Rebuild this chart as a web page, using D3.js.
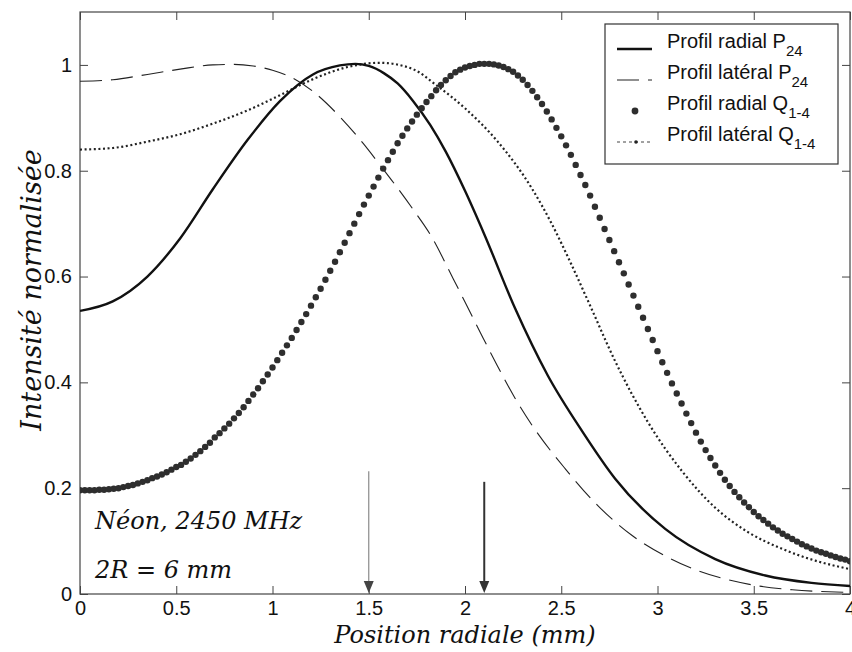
<!DOCTYPE html>
<html><head><meta charset="utf-8">
<script src="https://cdn.jsdelivr.net/npm/d3@7"></script>
<style>body{margin:0;background:#fff}svg{display:block}</style>
</head><body>
<svg id="c" width="852" height="652"></svg>
<script>
// ---------- data ----------
const xTicks = [0, 0.5, 1, 1.5, 2, 2.5, 3, 3.5, 4];
const xTickLabels = ["0", "0.5", "1", "1.5", "2", "2.5", "3", "3.5", "4"];
const yTicks = [0, 0.2, 0.4, 0.6, 0.8, 1];
const yTickLabels = ["0", "0.2", "0.4", "0.6", "0.8", "1"];

// Profil radial P24 (solid)
const radialP = [[0,.535],[.17,.553],[.35,.6],[.52,.672],[.69,.765],[.87,.858],[1.04,.932],[1.21,.982],[1.35,.999],[1.43,1.002],[1.5,.998],[1.58,.984],[1.65,.965],[1.73,.932],[1.82,.886],[1.9,.836],[2.0,.762],[2.1,.68],[2.26,.54],[2.43,.413],[2.61,.307],[2.78,.218],[3.04,.123],[3.3,.066],[3.56,.035],[3.8,.021],[4.0,.015]];
// Profil latéral P24 (dashed)
const lateralP = [[0,.969],[.17,.972],[.35,.982],[.52,.992],[.69,1.0],[.8,1.001],[.9,.998],[1.0,.99],[1.1,.976],[1.21,.95],[1.35,.902],[1.47,.852],[1.56,.81],[1.64,.772],[1.73,.727],[1.82,.679],[1.94,.595],[2.0,.552],[2.08,.494],[2.17,.43],[2.26,.37],[2.35,.318],[2.52,.237],[2.69,.167],[2.87,.11],[3.04,.072],[3.21,.044],[3.39,.025],[3.51,.016],[3.7,.008],[4.0,.003]];
// Profil radial Q1-4 (big dots)
const radialQ = [[0,.196],[.025,.196],[.05,.196],[.075,.196],[.1,.197],[.125,.197],[.15,.198],[.175,.199],[.2,.2],[.225,.202],[.25,.204],[.275,.206],[.3,.209],[.325,.212],[.35,.215],[.375,.219],[.4,.222],[.425,.226],[.45,.23],[.475,.235],[.5,.24],[.525,.244],[.55,.25],[.575,.256],[.6,.263],[.625,.27],[.65,.278],[.675,.286],[.7,.296],[.725,.304],[.75,.313],[.775,.322],[.8,.332],[.825,.342],[.85,.353],[.875,.365],[.9,.377],[.925,.389],[.95,.402],[.975,.415],[1,.428],[1.025,.442],[1.05,.456],[1.075,.47],[1.1,.484],[1.125,.499],[1.15,.514],[1.175,.529],[1.2,.545],[1.225,.561],[1.25,.577],[1.275,.594],[1.3,.611],[1.325,.628],[1.35,.646],[1.375,.664],[1.4,.682],[1.425,.7],[1.45,.718],[1.475,.736],[1.5,.753],[1.525,.77],[1.55,.787],[1.575,.804],[1.6,.82],[1.625,.836],[1.65,.852],[1.675,.866],[1.7,.88],[1.725,.893],[1.75,.906],[1.775,.918],[1.8,.93],[1.825,.941],[1.85,.952],[1.875,.962],[1.9,.971],[1.925,.979],[1.95,.986],[1.975,.991],[2,.995],[2.025,.998],[2.05,1],[2.075,1.002],[2.1,1.002],[2.125,1.002],[2.15,1.001],[2.175,.999],[2.2,.996],[2.225,.992],[2.25,.987],[2.275,.98],[2.3,.972],[2.325,.962],[2.35,.951],[2.375,.939],[2.4,.926],[2.425,.912],[2.45,.897],[2.475,.881],[2.5,.865],[2.525,.848],[2.55,.83],[2.575,.811],[2.6,.792],[2.625,.773],[2.65,.753],[2.675,.732],[2.7,.711],[2.725,.69],[2.75,.669],[2.775,.648],[2.8,.627],[2.825,.606],[2.85,.585],[2.875,.564],[2.9,.543],[2.925,.522],[2.95,.501],[2.975,.48],[3,.459],[3.025,.438],[3.05,.418],[3.075,.398],[3.1,.379],[3.125,.36],[3.15,.341],[3.175,.323],[3.2,.305],[3.225,.288],[3.25,.272],[3.275,.257],[3.3,.243],[3.325,.229],[3.35,.216],[3.375,.204],[3.4,.193],[3.425,.183],[3.45,.173],[3.475,.164],[3.5,.155],[3.525,.147],[3.55,.14],[3.575,.133],[3.6,.126],[3.625,.12],[3.65,.114],[3.675,.109],[3.7,.104],[3.725,.099],[3.75,.094],[3.775,.09],[3.8,.086],[3.825,.082],[3.85,.079],[3.875,.076],[3.9,.073],[3.925,.07],[3.95,.067],[3.975,.065],[4,.062]];
// Profil latéral Q1-4 (dotted)
const lateralQ = [[0,.84],[.17,.843],[.35,.855],[.52,.869],[.69,.889],[.87,.914],[1.04,.943],[1.21,.973],[1.39,.996],[1.56,1.004],[1.73,.992],[1.85,.962],[2.0,.918],[2.17,.855],[2.35,.765],[2.45,.7],[2.55,.625],[2.65,.545],[2.78,.44],[2.95,.325],[3.13,.231],[3.3,.163],[3.47,.117],[3.65,.085],[3.82,.063],[4.0,.047]];

const arrows = [{x: 1.5, y0: 0.232, y1: 0.0, kind: "light"}, {x: 2.1, y0: 0.212, y1: 0.0, kind: "dark"}];
const legendItems = [
  {text: "Profil radial ", main: "P", sub: "24", kind: "solid"},
  {text: "Profil latéral ", main: "P", sub: "24", kind: "dashed"},
  {text: "Profil radial ", main: "Q", sub: "1-4", kind: "dots"},
  {text: "Profil latéral ", main: "Q", sub: "1-4", kind: "dotted"}
];
const notes = ["Néon, 2450 MHz", "2R = 6 mm"];
const xLabel = "Position radiale (mm)";
const yLabel = "Intensité normalisée";

// ---------- drawing ----------
const L = 80, R = 850, T = 12, B = 594;
const svg = d3.select("#c");
const x = d3.scaleLinear().domain([0, 4]).range([L, R]);
const y = d3.scaleLinear().domain([0, 1.1]).range([B, T]);
const sans = "'Liberation Sans', Arial, Helvetica, sans-serif";
const serif = "'DejaVu Serif', serif";

svg.append("rect").attr("width", 852).attr("height", 652).attr("fill", "#fff");
svg.append("defs").append("clipPath").attr("id", "clip")
  .append("rect").attr("x", L).attr("y", T).attr("width", R - L).attr("height", B - T);

// axes (inward ticks like MATLAB)
const ax = svg.append("g").attr("transform", `translate(0,${B})`)
  .call(d3.axisBottom(x).tickValues(xTicks).tickFormat((d, i) => xTickLabels[i]).tickSize(-8).tickPadding(7));
const ay = svg.append("g").attr("transform", `translate(${L},0)`)
  .call(d3.axisLeft(y).tickValues(yTicks).tickFormat((d, i) => yTickLabels[i]).tickSize(-8).tickPadding(8));
const axT = svg.append("g").attr("transform", `translate(0,${T})`)
  .call(d3.axisTop(x).tickValues(xTicks).tickFormat("").tickSize(-8));
const ayR = svg.append("g").attr("transform", `translate(${R},0)`)
  .call(d3.axisRight(y).tickValues(yTicks).tickFormat("").tickSize(-8));
[ax, ay, axT, ayR].forEach(g => {
  g.select(".domain").remove();
  g.selectAll("line").attr("stroke", "#444").attr("stroke-width", 1);
  g.selectAll("text").attr("font-family", sans).attr("font-size", 20).attr("fill", "#111");
});
svg.append("rect").attr("x", L).attr("y", T).attr("width", R - L).attr("height", B - T)
  .attr("fill", "none").attr("stroke", "#444").attr("stroke-width", 1.2);

const plot = svg.append("g").attr("clip-path", "url(#clip)");
const line = d3.line().x(d => x(d[0])).y(d => y(d[1])).curve(d3.curveMonotoneX);

plot.append("path").datum(lateralP).attr("d", line).attr("fill", "none")
  .attr("stroke", "#222").attr("stroke-width", 1.1).attr("stroke-dasharray", "22,9");
plot.append("path").datum(lateralQ).attr("d", line).attr("fill", "none")
  .attr("stroke", "#222").attr("stroke-width", 2.2).attr("stroke-dasharray", "2,2.6");
plot.append("path").datum(radialP).attr("d", line).attr("fill", "none")
  .attr("stroke", "#111").attr("stroke-width", 2.4);
plot.selectAll("circle.q").data(radialQ).join("circle").attr("class", "q")
  .attr("cx", d => x(d[0])).attr("cy", d => y(d[1])).attr("r", 3.2)
  .attr("fill", "#2e2e2e");

// arrows
arrows.forEach(a => {
  const ax0 = x(a.x), yTop = y(a.y0), yTip = y(a.y1) - 1;
  const dark = a.kind === "dark";
  svg.append("line").attr("x1", ax0).attr("x2", ax0).attr("y1", yTop).attr("y2", yTip - 8)
    .attr("stroke", dark ? "#333" : "#8a8a8a").attr("stroke-width", dark ? 2 : 1.2);
  svg.append("path").attr("d", `M${ax0 - 5},${yTip - 12}L${ax0 + 5},${yTip - 12}L${ax0},${yTip}Z`)
    .attr("fill", dark ? "#333" : "#444");
});

// annotations
svg.append("text").attr("x", 95).attr("y", 529).text(notes[0])
  .attr("font-family", serif).attr("font-style", "italic").attr("font-size", 24).attr("fill", "#111");
svg.append("text").attr("x", 95).attr("y", 578).text(notes[1])
  .attr("font-family", serif).attr("font-style", "italic").attr("font-size", 24).attr("fill", "#111");

// axis labels
svg.append("text").attr("x", (L + R) / 2).attr("y", 643).attr("text-anchor", "middle").text(xLabel)
  .attr("font-family", serif).attr("font-style", "italic").attr("font-size", 24).attr("fill", "#111");
svg.append("text").attr("transform", `translate(41,290) rotate(-90)`).attr("text-anchor", "middle").text(yLabel)
  .attr("font-family", serif).attr("font-style", "italic").attr("font-size", 27).attr("fill", "#111");

// legend
const lg = svg.append("g");
lg.append("rect").attr("x", 605).attr("y", 24).attr("width", 233).attr("height", 140)
  .attr("fill", "#fff").attr("stroke", "#333").attr("stroke-width", 1.2);
legendItems.forEach((it, i) => {
  const b = 48 + i * 31;
  const sy = b + 1;
  if (it.kind === "solid") {
    lg.append("line").attr("x1", 617).attr("x2", 652).attr("y1", sy).attr("y2", sy).attr("stroke", "#111").attr("stroke-width", 2.6);
  } else if (it.kind === "dashed") {
    lg.append("line").attr("x1", 617).attr("x2", 652).attr("y1", sy).attr("y2", sy).attr("stroke", "#222").attr("stroke-width", 1.1).attr("stroke-dasharray", "22,9");
  } else if (it.kind === "dots") {
    lg.append("circle").attr("cx", 635).attr("cy", sy).attr("r", 3.4).attr("fill", "#2e2e2e");
  } else {
    lg.append("line").attr("x1", 617).attr("x2", 652).attr("y1", sy).attr("y2", sy).attr("stroke", "#444").attr("stroke-width", 1).attr("stroke-dasharray", "3,3");
    lg.append("circle").attr("cx", 636).attr("cy", sy).attr("r", 1.8).attr("fill", "#222");
  }
  const t = lg.append("text").attr("x", 667).attr("y", b)
    .attr("font-family", sans).attr("font-size", 20).attr("fill", "#111");
  t.append("tspan").text(it.text + it.main);
  t.append("tspan").attr("dy", 8).attr("font-size", 15).text(it.sub);
});
</script>
</body></html>
